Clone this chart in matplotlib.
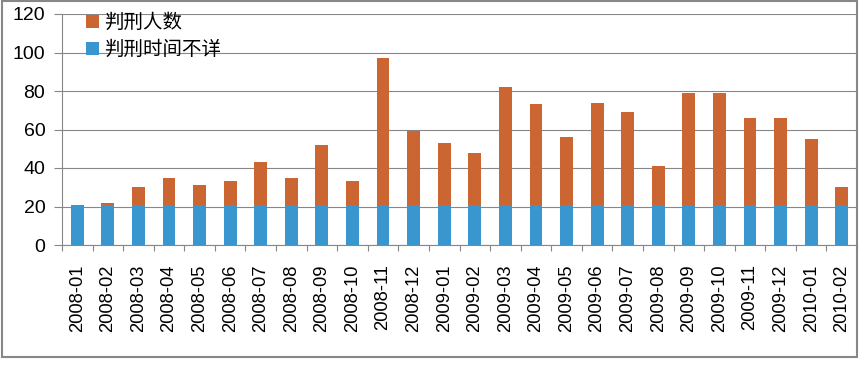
import matplotlib
matplotlib.use("Agg")
import matplotlib.pyplot as plt
from matplotlib.patches import Rectangle
import numpy as np

plt.rcParams['font.family'] = ['Liberation Sans', 'Noto Sans CJK SC', 'DejaVu Sans']

months = ["2008-01", "2008-02", "2008-03", "2008-04", "2008-05", "2008-06", "2008-07",
          "2008-08", "2008-09", "2008-10", "2008-11", "2008-12", "2009-01", "2009-02",
          "2009-03", "2009-04", "2009-05", "2009-06", "2009-07", "2009-08", "2009-09",
          "2009-10", "2009-11", "2009-12", "2010-01", "2010-02"]
unknown_time = [21] * 26
sentenced = [0, 1, 9, 14, 10, 12, 22, 14, 31, 12, 76, 38, 32, 27,
             61, 52, 35, 53, 48, 20, 58, 58, 45, 45, 34, 9]
yticks = [0, 20, 40, 60, 80, 100, 120]

blue = "#3996CF"
orange = "#CB6532"
gray = "#878787"

fig = plt.figure(figsize=(8.6, 3.8), dpi=100)
ax = fig.add_axes([62/860, 1-245/380, (857-62)/860, (245-14)/380])

x = np.arange(len(months))
w = 0.42
ax.bar(x, unknown_time, width=w, color=blue, label="判刑时间不详", zorder=3)
ax.bar(x, sentenced, width=w, bottom=unknown_time, color=orange, label="判刑人数", zorder=3)

ax.set_xlim(-0.5, len(months) - 0.5)
ax.set_ylim(0, 120)
ax.set_yticks(yticks)
ax.set_yticklabels([str(v) for v in yticks], fontsize=14)
ax.yaxis.grid(True, color=gray, linewidth=0.8, zorder=0)
ax.tick_params(axis='y', length=6, width=0.8, color=gray, pad=6)

ax.set_xticks(x)
ax.set_xticklabels(months, rotation=90, fontsize=13.2)
ax.set_xticks(np.arange(len(months) + 1) - 0.5, minor=True)
ax.tick_params(axis='x', which='major', length=0, pad=14)
ax.tick_params(axis='x', which='minor', length=4, width=0.8, color=gray)

for s in ['top', 'right']:
    ax.spines[s].set_visible(False)
for s in ['left', 'bottom']:
    ax.spines[s].set_color(gray)
    ax.spines[s].set_linewidth(0.8)

handles, labels = ax.get_legend_handles_labels()
ax.legend(handles[::-1], labels[::-1], loc='upper left', bbox_to_anchor=(78/860, 1-6/380),
          bbox_transform=fig.transFigure, frameon=False, fontsize=14,
          handlelength=0.7, handleheight=0.7, handletextpad=0.25, labelspacing=0.45,
          borderaxespad=0)

fig.patches.append(Rectangle((2/860, 1-357/380), 855/860, 356/380, transform=fig.transFigure,
                             fill=False, edgecolor=gray, linewidth=1.5))

fig.savefig("out.png", dpi=100)
